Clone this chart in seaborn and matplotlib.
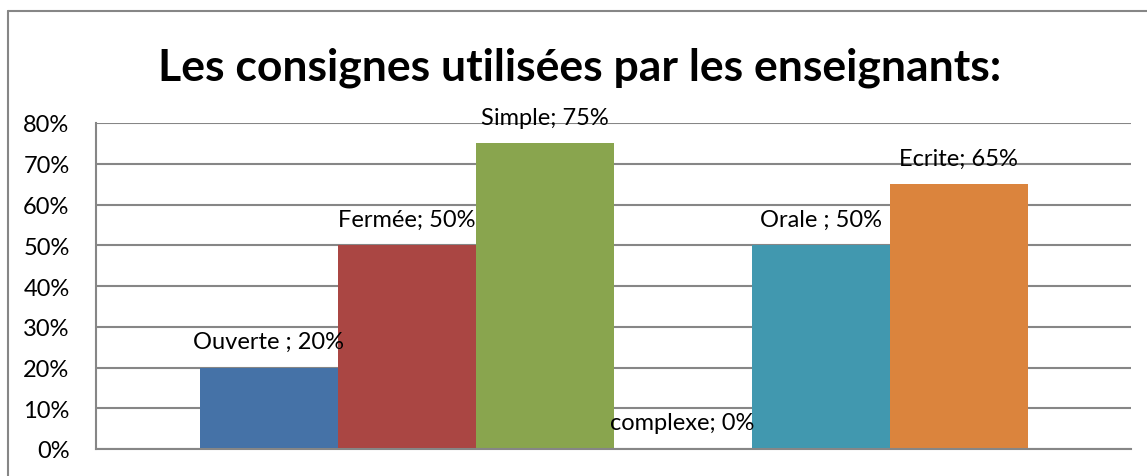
import matplotlib

matplotlib.use("Agg")
import matplotlib.pyplot as plt
import pandas as pd
import seaborn as sns
from matplotlib.lines import Line2D
from matplotlib.ticker import PercentFormatter

# data
categories = ["Ouverte", "Fermée", "Simple", "complexe", "Orale", "Ecrite"]
label_names = ["Ouverte ", "Fermée", "Simple", "complexe", "Orale ", "Ecrite"]
values = [20, 50, 75, 0, 50, 65]
colors = ["#4572A7", "#AA4643", "#89A54E", "#80699B", "#4198AF", "#DB843D"]
y_ticks = [0, 10, 20, 30, 40, 50, 60, 70, 80]
title = "Les consignes utilisées par les enseignants:"

sns.set_theme(style="white")
plt.rcParams["font.family"] = ["Lato", "DejaVu Sans"]
plt.rcParams["text.color"] = "black"

df = pd.DataFrame({"groupe": [""] * len(categories), "consigne": categories, "pct": values})

fig = plt.figure(figsize=(11.47, 4.77), dpi=100)
ax = fig.add_axes([96 / 1147, 27 / 477, 1035 / 1147, 326 / 477])

sns.barplot(
    data=df,
    x="groupe",
    y="pct",
    hue="consigne",
    hue_order=categories,
    palette=colors,
    width=0.8,
    saturation=1,
    linewidth=0,
    legend=False,
    ax=ax,
    zorder=2,
)

grid_color = "#868686"
ax.set_ylim(0, 80)
ax.set_yticks(y_ticks)
ax.yaxis.set_major_formatter(PercentFormatter(decimals=0))
ax.yaxis.grid(True, color=grid_color, linewidth=1.5, zorder=0)
ax.set_axisbelow(True)
ax.set(xlabel="", ylabel="", xticks=[])
ax.tick_params(axis="y", labelsize=17, length=0, pad=19, labelcolor="black")
for side in ["top", "right"]:
    ax.spines[side].set_visible(False)
for side in ["left", "bottom"]:
    ax.spines[side].set_color(grid_color)
    ax.spines[side].set_linewidth(1.5)

for bar, name, val in zip(ax.patches, label_names, values):
    ax.annotate(
        f"{name}; {val}%",
        (bar.get_x() + bar.get_width() / 2, bar.get_height()),
        xytext=(0, 26),
        textcoords="offset pixels",
        ha="center",
        va="center",
        fontsize=17,
        color="black",
        zorder=5,
        annotation_clip=False,
    )

fig.text(580 / 1147, 1 - 68 / 477, title, ha="center", va="center",
         fontsize=32, fontweight="bold", color="black")

# chart frame, cropped on the right and bottom
x0, y0 = 8 / 1147, 1 - 12 / 477
fig.add_artist(Line2D([x0, x0], [0, y0], transform=fig.transFigure,
                      color=grid_color, linewidth=1.5))
fig.add_artist(Line2D([x0, 1], [y0, y0], transform=fig.transFigure,
                      color=grid_color, linewidth=1.5))

fig.savefig("out.png", dpi=100)
